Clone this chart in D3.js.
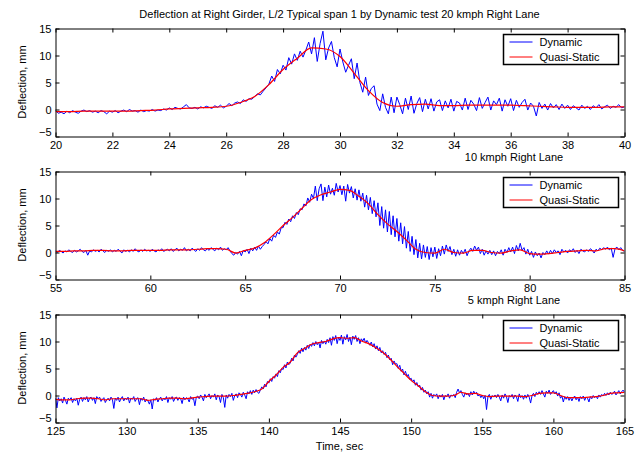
<!DOCTYPE html>
<html>
<head>
<meta charset="utf-8">
<script src="https://cdn.jsdelivr.net/npm/d3@7"></script>
<style>
  html, body { margin: 0; padding: 0; background: #fff; }
  svg { display: block; }
  text { font-family: "Liberation Sans", Arial, Helvetica, sans-serif; font-size: 11px; fill: #000; }
</style>
</head>
<body>
<script>
// ---- chart text ----
const chartTitle = "Deflection at Right Girder, L/2 Typical span 1 by Dynamic test 20 kmph Right Lane";
const yLabel = "Deflection, mm";
const panelCaptions = ["10 kmph Right Lane", "5 kmph Right Lane", "Time, sec"];
const legendLabels = ["Dynamic", "Quasi-Static"];

// ---- axes ----
const xDomains = [[20, 40], [55, 85], [125, 165]];
const xTicks1 = [20, 22, 24, 26, 28, 30, 32, 34, 36, 38, 40];
const xTicks2 = [55, 60, 65, 70, 75, 80, 85];
const xTicks3 = [125, 130, 135, 140, 145, 150, 155, 160, 165];
const yTicks = [-5, 0, 5, 10, 15];

// ---- measured deflection, sampled every 0.1 s ----
const dynStep = 0.1;
const dynStart = [20, 55, 125];
const dynamic1 = [
  -0.2, -0.7, -0.5, -0.8, -0.3, -0.6, -0.2, -0.5, -0.7, -0.3,
  -0.1, -0.4, -0.2, -0.5, -0.3, -0.6, -0.2, -0.4, -0.8, -0.3,
  -0.5, -0.2, -0.6, -0.3, -0.1, -0.4, 0.0, -0.3, -0.2, -0.5,
  -0.1, -0.4, -0.2, -0.3, 0.0, -0.3, -0.1, -0.2, 0.1, -0.1,
  0.3, 0.0, 0.4, 0.2, 0.1, 0.5, 0.9, 0.3, 0.2, 0.4,
  0.1, 0.5, 0.3, 0.6, 0.4, 0.2, 0.7, 0.4, 0.8, 0.3,
  0.6, 1.1, 0.7, 1.2, 1.4, 1.1, 1.8, 1.5, 2.0, 1.9,
  2.4, 2.9, 2.7, 3.4, 4.0, 4.7, 6.2, 5.2, 7.4, 6.6,
  8.2, 7.3, 9.6, 8.4, 10.3, 9.1, 10.8, 9.7, 11.0, 12.5,
  10.3, 13.3, 8.9, 12.2, 14.5, 9.2, 11.4, 12.6, 9.6, 7.9,
  11.2, 8.8, 6.9, 8.2, 9.4, 5.7, 8.6, 5.0, 3.2, 6.0,
  2.6, 3.9, 4.4, 1.0, -0.2, 2.9, 0.4, -0.8, 2.3, -0.6,
  2.3, 0.9, -0.8, 2.1, 0.0, 2.5, -0.7, 1.1, 2.2, -0.4,
  1.9, 0.1, 2.0, -0.3, 1.4, 1.8, -0.2, 1.6, 0.3, 1.9,
  -0.3, 1.5, 1.2, -0.1, 2.1, 0.0, 1.7, 1.0, -0.2, 2.2,
  0.2, 1.3, 2.3, -0.1, 1.6, 0.9, 2.1, -0.3, 1.8, 0.6,
  2.0, -0.2, 1.7, 0.4, 1.3, 1.9, -0.1, 1.2, 0.6, -1.2,
  1.3, 0.2, 1.0, -0.1, 1.1, 0.3, 0.9, 0.0, 1.0, 0.2,
  0.8, 0.0, 0.7, 0.3, -0.1, 0.8, 0.2, 0.6, 0.0, 0.7,
  0.3, 0.9, 0.1, 0.5, 0.8, 0.2, 0.6, 0.4, 0.9, 0.3,
  0.5
];
const dynamic2 = [
  0.3, 0.0, 0.4, 0.2, -0.1, 0.3, 0.1, 0.5, 0.2, 0.0,
  0.4, 0.1, 0.3, 0.6, 0.2, 0.0, 0.4, -0.5, 0.3, 0.1,
  0.5, 0.2, 0.4, 0.1, 0.6, 0.3, 0.0, 0.4, 0.2, 0.5,
  0.1, 0.4, 0.2, 0.6, 0.3, -0.1, 0.5, 0.2, 0.4, 0.1,
  0.5, 0.2, 0.7, 0.3, 0.1, 0.5, 0.2, 0.6, 0.3, 0.4,
  0.2, 0.6, 0.3, 0.1, 0.5, 0.3, 0.7, 0.2, 0.4, 0.6,
  0.3, 0.7, 0.2, 0.5, 0.8, 0.3, 0.6, 0.4, 0.9, 0.3,
  0.6, 0.3, 0.8, 0.5, 0.2, 0.7, 0.4, 0.9, 0.5, 0.3,
  0.7, 0.4, 0.9, 0.6, 0.3, 0.8, 0.5, 1.0, 0.4, 0.7,
  0.5, 0.9, 0.3, -0.2, -0.5, 0.0, -0.3, 0.2, -0.6, 0.4,
  0.1, 0.6, -0.2, 0.8, 0.3, 1.0, 0.4, 1.2, 0.6, 1.1,
  1.5, 2.0, 1.6, 2.6, 2.1, 3.2, 2.8, 3.8, 3.4, 4.6,
  4.6, 5.6, 5.2, 6.2, 5.7, 6.8, 6.3, 7.4, 7.0, 8.1,
  7.9, 9.0, 8.6, 10.1, 9.3, 10.8, 10.0, 12.3, 9.6, 11.8,
  12.7, 9.6, 12.1, 10.3, 12.5, 10.8, 11.9, 10.6, 12.8, 11.2,
  12.4, 10.7, 12.3, 9.5, 12.6, 11.0, 12.2, 10.1, 11.8, 9.7,
  11.6, 9.5, 11.0, 8.4, 10.6, 7.9, 10.2, 7.2, 9.6, 6.6,
  9.2, 5.0, 8.5, 4.5, 7.9, 3.8, 7.6, 3.3, 6.8, 2.9,
  6.3, 2.1, 5.5, 1.6, 4.8, 0.8, 3.9, 0.2, 3.0, -0.4,
  2.4, -1.0, 1.7, -1.2, 1.4, -0.9, 1.1, -1.3, 0.9, -0.8,
  1.0, -1.1, 0.7, -0.6, 1.2, -0.3, 1.4, 0.2, 1.1, -0.4,
  0.6, -0.7, 0.5, -0.5, 0.4, -0.2, 0.6, -0.6, 0.3, 0.8,
  0.2, 1.2, 0.4, 1.0, -0.2, 0.6, -0.5, 0.3, -0.3, 0.4,
  -0.4, 0.3, -0.6, 0.2, -0.2, 0.5, -0.5, 0.6, 0.0, 0.9,
  0.1, 1.0, -0.2, 1.3, 0.3, 1.7, 0.4, 0.9, -0.3, 0.6,
  -0.5, 0.2, -0.9, 0.1, -0.6, -0.1, -1.0, 0.0, -0.4, 0.3,
  -0.3, 0.4, -0.2, 0.5, 0.0, 0.3, -0.4, 0.6, 0.1, 0.4,
  -0.1, 0.5, 0.2, 0.7, 0.0, 0.4, -0.2, 0.6, 0.3, 0.1,
  0.5, 0.2, 0.7, 0.4, -0.1, 0.6, 0.3, 0.8, 0.5, 0.9,
  0.6, 1.0, 0.5, 0.8, -0.9, 0.7, 1.0, 0.5, 0.9, 0.4,
  0.2
];
const dynamic3 = [
  -0.5, -2.3, -0.4, -1.0, -0.6, -1.4, -0.3, -0.9, -1.6, -0.5,
  -0.8, -0.4, -1.3, -0.6, -1.0, -0.5, -1.8, -0.7, -0.3, -1.1,
  -0.4, -0.8, -0.2, -1.2, -0.5, -0.3, -0.9, -0.4, -1.5, -0.2,
  -0.6, -0.3, -1.1, -0.7, -0.4, -1.3, -0.8, -0.5, -1.0, -0.3,
  -0.7, -2.4, -0.5, -0.9, -0.3, -1.2, -0.6, -0.2, -1.0, -0.5,
  -0.8, -0.3, -1.4, -0.5, -0.7, -0.2, -1.1, -0.6, -0.4, -1.7,
  -0.5, -0.9, -0.3, -1.2, -0.7, -1.0, -1.6, -0.8, -2.5, -0.6,
  -0.9, -0.4, -1.2, -0.6, -0.3, -1.0, -0.5, -0.8, -0.2, -1.3,
  -0.4, -0.7, -0.2, -1.1, -0.5, -0.3, -0.9, -0.4, -0.6, -1.5,
  -0.3, -0.8, -0.4, -0.6, -1.2, -0.2, -0.7, -0.5, -1.9, -0.3,
  -0.1, -0.6, 0.1, -0.3, -1.0, 0.2, -0.4, -0.1, 0.3, -0.6,
  0.0, -0.3, 0.3, -0.8, 0.1, -0.2, -1.3, 0.2, -0.4, -2.2,
  0.1, -0.5, 0.2, -0.2, 0.4, -0.9, 0.0, 0.3, -0.4, 0.5,
  0.2, -0.3, 0.6, 0.1, -0.6, 0.7, 0.3, 0.9, 0.2, 1.0,
  0.5, 1.1, 0.6, 0.4, 1.0, 1.6, 1.2, 2.1, 1.6, 2.6,
  2.3, 3.1, 2.6, 3.5, 3.2, 4.0, 3.5, 4.6, 4.2, 5.0,
  4.8, 5.7, 5.1, 6.2, 5.7, 6.0, 6.9, 6.4, 7.5, 7.1,
  7.6, 8.3, 7.8, 8.8, 8.1, 8.9, 8.4, 9.3, 8.7, 9.5,
  9.1, 9.8, 9.2, 10.0, 9.4, 9.9, 8.8, 10.2, 9.6, 10.1,
  9.5, 10.4, 9.8, 10.7, 9.3, 10.9, 10.2, 11.1, 9.6, 10.8,
  10.2, 11.2, 9.5, 10.9, 10.3, 11.3, 10.0, 10.8, 9.4, 11.0,
  10.4, 11.1, 10.0, 10.7, 9.6, 10.5, 10.1, 10.6, 9.7, 10.2,
  9.8, 9.3, 9.9, 9.0, 9.6, 8.6, 9.2, 8.3, 8.9, 7.9,
  8.3, 7.6, 8.0, 7.0, 7.5, 6.6, 6.9, 5.7, 6.4, 5.8,
  5.9, 5.0, 5.6, 4.5, 4.9, 3.8, 4.5, 3.6, 3.9, 3.0,
  3.2, 2.5, 2.9, 1.9, 2.4, 1.6, 1.9, 1.0, 1.5, 0.6,
  1.0, 0.3, 0.7, -0.3, 0.4, -0.5, 0.2, -0.1, 0.3, -0.6,
  0.1, -0.3, 0.2, -0.8, 0.0, -0.2, 0.3, -0.5, 0.1, -0.1,
  0.2, -0.4, 0.6, 1.2, 0.5, 0.9, 0.2, -0.3, 0.5, 0.1,
  0.4, -0.2, 0.7, 0.1, 0.8, 0.3, 0.6, -0.1, 0.2, -0.4,
  0.1, -0.6, 0.0, -2.6, -0.2, 0.2, -0.7, 0.0, -0.3, 0.1,
  -0.4, 0.2, -0.3, -1.0, 0.1, -0.5, 0.3, -0.2, -1.3, 0.0,
  -0.3, 0.2, -0.6, 0.1, -0.2, -1.1, 0.3, -0.4, 0.0, -0.7,
  0.1, -0.5, 0.2, -0.3, -1.4, 0.0, 0.4, -0.2, 0.6, 0.2,
  0.7, 0.2, 0.9, 0.3, -0.3, 0.8, 0.4, 1.0, 0.2, 0.6,
  0.9, 0.3, 0.7, -0.1, 0.5, -0.5, -0.1, -1.2, -0.2, -0.7,
  -0.2, -0.9, -0.3, -1.0, -0.4, -0.1, -0.8, -0.3, -1.1, -0.2,
  -0.6, -0.1, -0.9, -0.3, -0.5, -1.2, -0.2, -0.6, 0.0, -0.4,
  -0.1, -0.6, 0.1, -0.3, 0.2, -0.1, 0.4, 0.0, 0.5, 0.1,
  0.6, 0.2, 0.4, 0.8, 0.1, 0.5, 0.9, 0.3, 0.7, 1.0,
  0.6
];

// ---- quasi-static (filtered) deflection, every 0.5 s ----
const qsStep = 0.5;
const qsStart = [20, 55, 125];
const quasiStatic1 = [
  -0.4, -0.4, -0.3, -0.3, -0.3, -0.3, -0.2, -0.1, 0.1, 0.2,
  0.3, 0.4, 0.6, 1.3, 2.4, 4.6, 7.4, 9.5, 11.4, 11.2,
  9.8, 6.7, 3.5, 1.3, 0.6, 0.9, 1.0, 0.7, 0.7, 0.8,
  0.8, 0.8, 0.8, 0.7, 0.6, 0.5, 0.4, 0.4, 0.4, 0.5,
  0.5
];
const quasiStatic2 = [
  0.2, 0.2, 0.3, 0.3, 0.4, 0.4, 0.3, 0.3, 0.4, 0.4,
  0.4, 0.4, 0.5, 0.5, 0.5, 0.6, 0.7, 0.7, 0.6, -0.1,
  0.4, 0.8, 1.8, 3.3, 5.0, 6.5, 8.2, 9.8, 10.7, 11.2,
  11.7, 11.5, 10.4, 9.0, 7.0, 5.3, 3.9, 2.3, 0.6, 0.0,
  -0.1, 0.6, 0.0, -0.1, 0.4, 0.4, 0.0, -0.1, 0.3, 0.5,
  -0.2, -0.3, -0.2, 0.0, 0.2, 0.3, 0.4, 0.3, 0.7, 0.7,
  0.3
];
const quasiStatic3 = [
  -0.7, -0.8, -0.8, -0.6, -0.5, -0.5, -0.6, -0.8, -0.6, -0.6,
  -0.6, -0.6, -0.6, -0.9, -0.7, -0.6, -0.5, -0.5, -0.6, -0.5,
  -0.3, -0.2, -0.1, -0.1, -0.1, 0.0, 0.2, 0.4, 0.7, 1.2,
  2.6, 3.8, 5.2, 6.2, 7.9, 8.7, 9.5, 9.8, 10.0, 10.5,
  10.7, 10.6, 10.7, 10.1, 9.6, 8.9, 8.0, 6.8, 5.4, 4.1,
  2.8, 1.8, 0.7, 0.0, -0.1, -0.1, 0.0, 0.6, 0.3, 0.4,
  0.0, -0.2, -0.1, -0.1, -0.1, -0.1, -0.2, 0.0, 0.4, 0.5,
  0.5, 0.0, -0.4, -0.4, -0.4, -0.3, -0.2, 0.0, 0.4, 0.5,
  0.6
];

const panels = [
  { dyn: dynamic1, qs: quasiStatic1, ticks: xTicks1 },
  { dyn: dynamic2, qs: quasiStatic2, ticks: xTicks2 },
  { dyn: dynamic3, qs: quasiStatic3, ticks: xTicks3 }
];

// ---- layout ----
const W = 642, H = 453;
const plotLeft = 55, plotRight = 624, plotH = 108;
const plotTops = [28, 171, 314];
const plotW = plotRight - plotLeft;
const blue = "#0000ff", red = "#ff0000";

const svg = d3.select("body").append("svg")
  .attr("width", W).attr("height", H)
  .attr("viewBox", `0 0 ${W} ${H}`);
svg.append("rect").attr("width", W).attr("height", H).attr("fill", "#fff");

svg.append("text")
  .attr("x", plotLeft + plotW / 2).attr("y", 18)
  .attr("text-anchor", "middle")
  .text(chartTitle);

const toPoints = (arr, start, step) => arr.map((v, i) => [start + i * step, v]);

panels.forEach((p, i) => {
  const top = plotTops[i];
  const g = svg.append("g").attr("transform", `translate(${plotLeft + 0.5},${top + 0.5})`);

  const x = d3.scaleLinear().domain(xDomains[i]).range([0, plotW]);
  const y = d3.scaleLinear().domain([-5, 15]).range([plotH, 0]);

  const clipId = "clip" + i;
  g.append("clipPath").attr("id", clipId)
    .append("rect").attr("width", plotW).attr("height", plotH);

  const line = d3.line().x(d => x(d[0])).y(d => y(d[1]));
  const smooth = d3.line().x(d => x(d[0])).y(d => y(d[1])).curve(d3.curveMonotoneX);

  const traces = g.append("g").attr("clip-path", `url(#${clipId})`);
  traces.append("path")
    .datum(toPoints(p.dyn, dynStart[i], dynStep))
    .attr("d", line)
    .attr("fill", "none").attr("stroke", blue).attr("stroke-width", 1)
    .attr("stroke-linejoin", "round");
  traces.append("path")
    .datum(toPoints(p.qs, qsStart[i], qsStep))
    .attr("d", smooth)
    .attr("fill", "none").attr("stroke", red).attr("stroke-width", 1.2);

  // box axes with inward ticks on all four sides
  const styleAxis = sel => {
    sel.selectAll("path.domain").attr("stroke", "#000").attr("stroke-width", 1);
    sel.selectAll(".tick line").attr("stroke", "#000");
    sel.selectAll(".tick text").attr("fill", "#000");
    sel.attr("font-size", null).attr("font-family", null);
  };
  g.append("g").attr("transform", `translate(0,${plotH})`)
    .call(d3.axisBottom(x).tickValues(p.ticks).tickSizeInner(-4).tickSizeOuter(0).tickPadding(5))
    .call(styleAxis);
  g.append("g")
    .call(d3.axisTop(x).tickValues(p.ticks).tickSizeInner(-4).tickSizeOuter(0).tickFormat(""))
    .call(styleAxis);
  const yAxis = g.append("g")
    .call(d3.axisLeft(y).tickValues(yTicks).tickSizeInner(-4).tickSizeOuter(0).tickPadding(4))
    .call(styleAxis);
  // lowest y label sits just above the x tick labels
  yAxis.selectAll(".tick text").filter(d => d === yTicks[0]).attr("dy", "-0.05em");
  g.append("g").attr("transform", `translate(${plotW},0)`)
    .call(d3.axisRight(y).tickValues(yTicks).tickSizeInner(-4).tickSizeOuter(0).tickFormat(""))
    .call(styleAxis);

  // y-axis label
  svg.append("text")
    .attr("transform", `translate(22,${top + plotH / 2}) rotate(-90)`)
    .attr("text-anchor", "middle")
    .attr("dominant-baseline", "central")
    .text(yLabel);

  // caption under the panel
  svg.append("text")
    .attr("x", i === 2 ? plotLeft + plotW / 2 : 514)
    .attr("y", top + plotH + (i === 2 ? 28 : 25))
    .attr("text-anchor", "middle")
    .text(panelCaptions[i]);

  // legend
  const lg = svg.append("g").attr("transform", `translate(503.5,${top + 6.5})`);
  lg.append("rect").attr("width", 115).attr("height", 30)
    .attr("fill", "#fff").attr("stroke", "#000").attr("stroke-width", 1.5);
  [blue, red].forEach((c, k) => {
    const yy = 7.5 + k * 15;
    lg.append("line").attr("x1", 6).attr("x2", 29).attr("y1", yy).attr("y2", yy)
      .attr("stroke", c).attr("stroke-width", 1);
    lg.append("text").attr("x", 36).attr("y", yy).attr("dominant-baseline", "central")
      .text(legendLabels[k]);
  });
});
</script>
</body>
</html>
